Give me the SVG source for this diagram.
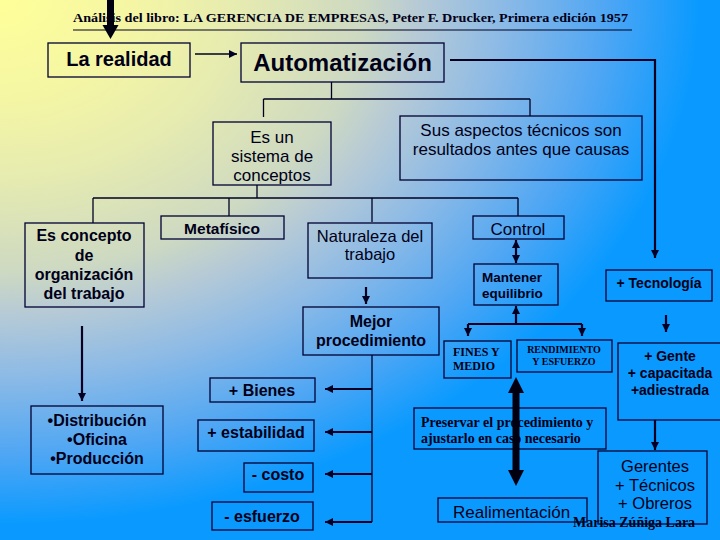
<svg xmlns="http://www.w3.org/2000/svg" width="720" height="540" viewBox="0 0 720 540">
<defs>
<radialGradient id="bg" gradientUnits="objectBoundingBox" cx="0" cy="0" r="0.97" fx="0" fy="0">
<stop offset="0" stop-color="#ffff99"/>
<stop offset="0.19" stop-color="#f4f6a4"/>
<stop offset="0.34" stop-color="#e6ebb0"/>
<stop offset="0.52" stop-color="#cdd9c2"/>
<stop offset="0.6" stop-color="#b6cad6"/>
<stop offset="0.72" stop-color="#8cbae6"/>
<stop offset="0.87" stop-color="#4ea6f4"/>
<stop offset="1" stop-color="#0a9aff"/>
</radialGradient>
<marker id="ah" markerUnits="userSpaceOnUse" markerWidth="9" markerHeight="8" refX="8" refY="4" orient="auto-start-reverse">
<path d="M0,0 L8,4 L0,8 z" fill="#000022"/>
</marker>
</defs>
<style>
.box{fill:none;stroke:#000033;stroke-width:1.3}
.ln{fill:none;stroke:#000022;stroke-width:1.3}
.lt{fill:none;stroke:#000022;stroke-width:2.2}
.sb{font-family:"Liberation Sans",Arial,sans-serif;font-weight:bold;fill:#000018}
.sr{font-family:"Liberation Sans",Arial,sans-serif;font-weight:normal;fill:#000018}
.tb{font-family:"Liberation Serif","Times New Roman",serif;font-weight:bold;fill:#000018}
.c{text-anchor:middle}
</style>
<rect width="720" height="540" fill="url(#bg)"/>

<g id="title">
<text class="tb" x="73" y="22" font-size="13" textLength="555" lengthAdjust="spacingAndGlyphs">Análisis del libro: LA GERENCIA DE EMPRESAS, Peter F. Drucker, Primera edición 1957</text>
<line x1="73" y1="30" x2="632" y2="30" stroke="#000022" stroke-width="1.2"/>
</g>

<g id="connectors">
<rect x="107" y="0" width="7" height="26" fill="#000011"/>
<polygon points="102.5,25 118.5,25 110.5,39" fill="#000011"/>
<line class="ln" x1="195" y1="54" x2="237" y2="54" marker-end="url(#ah)"/>
<polyline class="lt" points="450,60 655,60 655,258" marker-end="url(#ah)"/>
<line class="ln" x1="331.5" y1="82" x2="331.5" y2="99"/>
<line class="ln" x1="263.5" y1="99" x2="530" y2="99"/>
<line class="ln" x1="263.5" y1="99" x2="263.5" y2="117"/>
<line class="ln" x1="530" y1="99" x2="530" y2="116"/>
<line class="ln" x1="257" y1="185" x2="257" y2="198"/>
<line class="ln" x1="93" y1="198" x2="518" y2="198"/>
<line class="ln" x1="93" y1="198" x2="93" y2="223"/>
<line class="ln" x1="229" y1="198" x2="229" y2="216"/>
<line class="ln" x1="372" y1="198" x2="372" y2="222"/>
<line class="ln" x1="518" y1="198" x2="518" y2="216"/>
<line class="lt" x1="366" y1="287" x2="366" y2="304" marker-end="url(#ah)"/>
<line class="ln" x1="372" y1="355" x2="372" y2="522"/>
<line class="lt" x1="372" y1="389" x2="325" y2="389" marker-end="url(#ah)"/>
<line class="lt" x1="372" y1="432" x2="325" y2="432" marker-end="url(#ah)"/>
<line class="lt" x1="372" y1="474" x2="325" y2="474" marker-end="url(#ah)"/>
<line class="lt" x1="372" y1="522" x2="325" y2="522" marker-end="url(#ah)"/>
<line class="lt" x1="82" y1="326" x2="82" y2="401" marker-end="url(#ah)"/>
<line class="lt" x1="516" y1="240" x2="516" y2="263" marker-start="url(#ah)" marker-end="url(#ah)"/>
<line class="lt" x1="516" y1="324" x2="516" y2="306" marker-end="url(#ah)"/>
<line class="lt" x1="468" y1="324" x2="582" y2="324"/>
<line class="lt" x1="468" y1="324" x2="468" y2="336" marker-end="url(#ah)"/>
<line class="lt" x1="582" y1="324" x2="582" y2="336" marker-end="url(#ah)"/>
<line class="lt" x1="666" y1="315" x2="666" y2="332" marker-end="url(#ah)"/>
<line class="lt" x1="655" y1="420" x2="655" y2="450" marker-end="url(#ah)"/>
</g>

<g id="realidad"><rect class="box" x="48" y="43" width="142" height="34"/><text class="sb c" x="119" y="66" font-size="20">La realidad</text></g>
<g id="automatizacion"><rect class="box" x="241" y="43" width="203" height="39"/><text class="sb c" x="342.5" y="71" font-size="24">Automatización</text></g>
<g id="sistema"><rect class="box" x="213" y="122" width="118" height="63"/>
<text class="sr c" x="272" y="143" font-size="17">Es un</text><text class="sr c" x="272" y="162" font-size="17">sistema de</text><text class="sr c" x="272" y="181" font-size="17">conceptos</text></g>
<g id="aspectos"><rect class="box" x="400" y="116" width="242" height="64"/>
<text class="sr c" x="521" y="136" font-size="17">Sus aspectos técnicos son</text><text class="sr c" x="521" y="155" font-size="17">resultados antes que causas</text></g>
<g id="concepto"><rect class="box" x="25" y="223" width="119" height="84"/>
<text class="sb c" x="84" y="241" font-size="16">Es concepto</text><text class="sb c" x="84" y="260.5" font-size="16">de</text><text class="sb c" x="84" y="280" font-size="16">organización</text><text class="sb c" x="84" y="299" font-size="16">del trabajo</text></g>
<g id="metafisico"><rect class="box" x="161" y="216" width="123" height="23"/><text class="sb c" x="222" y="234" font-size="15.5">Metafísico</text></g>
<g id="naturaleza"><rect class="box" x="308" y="223" width="124" height="55"/>
<text class="sr c" x="370" y="242" font-size="16.5">Naturaleza del</text><text class="sr c" x="370" y="260" font-size="16.5">trabajo</text></g>
<g id="mejor"><rect class="box" x="303" y="307" width="136" height="48"/>
<text class="sb c" x="371" y="327" font-size="16">Mejor</text><text class="sb c" x="371" y="346" font-size="16">procedimiento</text></g>
<g id="control"><rect class="box" x="473" y="216" width="91" height="23"/><text class="sr c" x="518" y="235" font-size="17">Control</text></g>
<g id="mantener"><rect class="box" x="474" y="264" width="84" height="41"/>
<text class="sb" x="482" y="282" font-size="13.5">Mantener</text><text class="sb" x="482" y="298" font-size="13.5">equilibrio</text></g>
<g id="tecnologia"><rect class="box" x="606" y="270" width="106" height="31"/><text class="sb c" x="659" y="288" font-size="14">+ Tecnología</text></g>
<g id="fines"><rect class="box" x="444" y="341" width="67" height="37"/>
<text class="tb" x="453" y="356" font-size="12">FINES Y</text><text class="tb" x="453" y="370" font-size="12">MEDIO</text></g>
<g id="rendimiento"><rect class="box" x="517" y="340" width="95" height="32"/>
<text class="tb c" x="564" y="352.5" font-size="10">RENDIMIENTO</text><text class="tb c" x="564" y="364.5" font-size="10">Y ESFUERZO</text></g>
<g id="gente"><rect class="box" x="618" y="343" width="106" height="77"/>
<text class="sb c" x="670" y="361" font-size="14">+ Gente</text><text class="sb c" x="670" y="378" font-size="14">+ capacitada</text><text class="sb c" x="670" y="395" font-size="14">+adiestrada</text></g>
<g id="distribucion"><rect class="box" x="31" y="406" width="132" height="68"/>
<text class="sb c" x="97" y="426" font-size="16">•Distribución</text><text class="sb c" x="97" y="445" font-size="16">•Oficina</text><text class="sb c" x="97" y="464" font-size="16">•Producción</text></g>
<g id="bienes"><rect class="box" x="210" y="378" width="105" height="24"/><text class="sb c" x="262" y="396" font-size="16">+ Bienes</text></g>
<g id="estabilidad"><rect class="box" x="198" y="420" width="116" height="31"/><text class="sb c" x="256" y="438" font-size="16">+ estabilidad</text></g>
<g id="costo"><rect class="box" x="244" y="463" width="69" height="29"/><text class="sb c" x="278" y="480" font-size="16">- costo</text></g>
<g id="esfuerzo"><rect class="box" x="212" y="502" width="101" height="28"/><text class="sb c" x="262" y="522" font-size="16">- esfuerzo</text></g>
<g id="preservar"><rect class="box" x="414" y="408" width="192" height="41"/>
<text class="tb" x="421" y="427" font-size="14">Preservar el procedimiento y</text><text class="tb" x="421" y="443" font-size="14">ajustarlo en caso necesario</text></g>
<g id="realimentacion"><rect class="box" x="438" y="498" width="149" height="24"/><text class="sr" x="453" y="518" font-size="17">Realimentación</text></g>
<g id="gerentes"><rect class="box" x="598" y="451" width="109" height="73"/>
<text class="sr c" x="655" y="472" font-size="16.5">Gerentes</text><text class="sr c" x="655" y="491" font-size="16.5">+ Técnicos</text><text class="sr c" x="655" y="509" font-size="16.5">+ Obreros</text></g>
<g id="bigarrow">
<rect x="512.5" y="391" width="7" height="81" fill="#000011"/>
<polygon points="508,393 524,393 516,377" fill="#000011"/>
<polygon points="508,470 524,470 516,486" fill="#000011"/>
</g>
<g id="author"><text class="tb" x="573" y="527" font-size="14">Marisa Zúñiga Lara</text></g>
</svg>
